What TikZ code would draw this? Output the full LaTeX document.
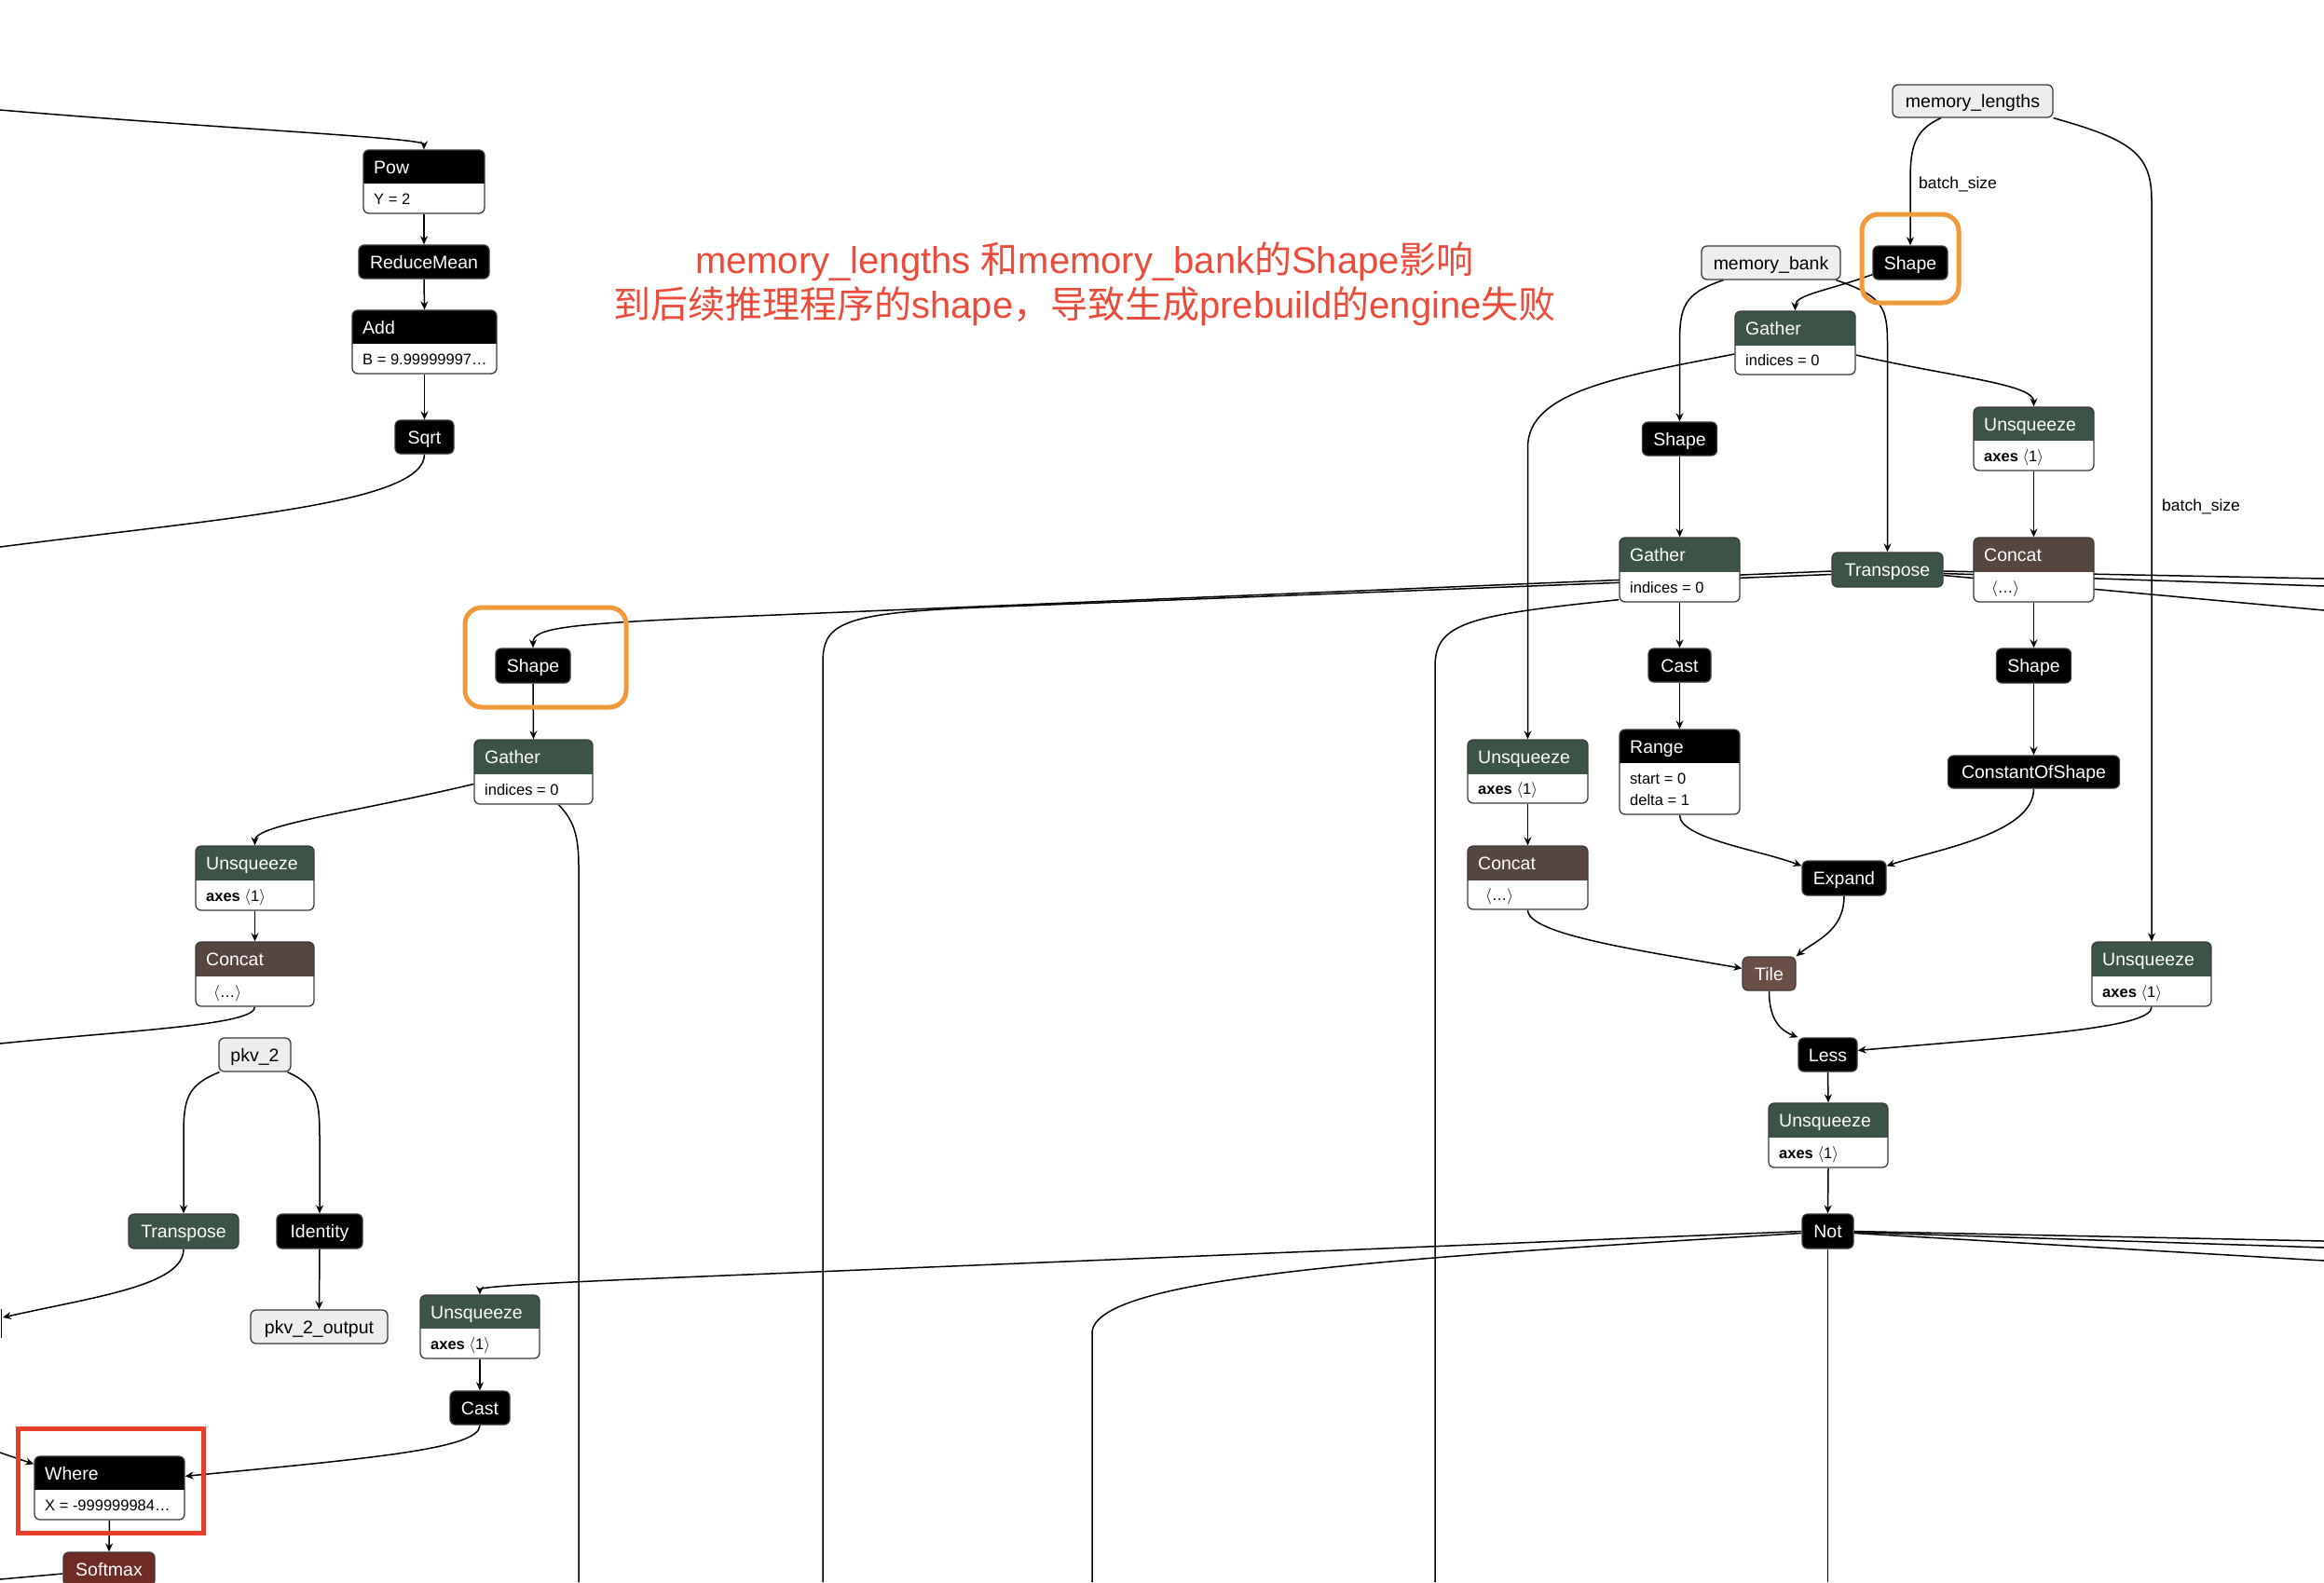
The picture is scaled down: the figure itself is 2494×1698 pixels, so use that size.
\documentclass[tikz,border=0pt]{standalone}
\usepackage{fontspec}
\setmainfont{Liberation Sans}
\newfontfamily\cjk{Noto Sans CJK SC}
\usetikzlibrary{arrows.meta}
\pgfdeclarelayer{bgl}
\pgfdeclarelayer{edgel}
\pgfsetlayers{bgl,edgel,main}
\definecolor{nodeline}{HTML}{3A3A3A}
\definecolor{hgreen}{HTML}{3C5445}
\definecolor{hbrown}{HTML}{574640}
\definecolor{htile}{HTML}{6B4F47}
\definecolor{hsoft}{HTML}{6E2C24}
\definecolor{inputfill}{HTML}{EEEEEE}
\definecolor{hlorange}{HTML}{F0993B}
\definecolor{hlred}{HTML}{E5402B}
\definecolor{notered}{HTML}{EA4B3A}
\newcommand\ttlfont{\fontsize{19.5}{23}\selectfont}
\newcommand\atrfont{\fontsize{16.5}{20}\selectfont}
\newcommand\lblfont{\fontsize{17.5}{21}\selectfont}
\newcommand\notefont{\fontsize{40}{48}\selectfont}
\newcommand\axesone{\textbf{axes}\ \ensuremath{\langle}1\ensuremath{\rangle}}
\newcommand\cellip{\hspace{8pt}\ensuremath{\langle}…\ensuremath{\rangle}}
\newcommand\snode[7]{\node[#6, minimum width={(#4)-(#2)}, minimum height={(#5)-(#3)}] (#1) at ({((#2)+(#4))/2},{((#3)+(#5))/2}) {#7};}
\newcommand\hnode[9]{%
  \node[hbox, minimum width={(#4)-(#2)}, minimum height={(#5)-(#3)},
    path picture={\fill[#7, sharp corners] (path picture bounding box.north west) rectangle ([yshift={(#3)-(#6)}]path picture bounding box.north east);}]
    (#1) at ({((#2)+(#4))/2},{((#3)+(#5))/2}) {};
  \node[ttl, anchor=west] (#1-t) at ({(#2)+11},{((#3)+(#6))/2}) {#8};
  \node[atr, anchor=west] (#1-a) at ({(#2)+11},{((#6)+(#5))/2}) {#9};}
\begin{document}
\begin{tikzpicture}[x=1pt,y=-1pt,
  opbox/.style={draw=nodeline, line width=1.3pt, rounded corners=6pt, inner sep=0pt,
    font=\ttlfont, text height=18pt, text depth=4pt},
  blk/.style={opbox, fill=black, text=white},
  grn/.style={opbox, fill=hgreen, text=white},
  tilebox/.style={opbox, fill=htile, text=white},
  softbox/.style={opbox, fill=hsoft, text=white},
  inp/.style={opbox, fill=inputfill, text=black},
  hbox/.style={draw=nodeline, line width=1.3pt, rounded corners=6pt, inner sep=0pt, fill=white},
  ttl/.style={font=\ttlfont, text=white, inner sep=0pt, text height=18pt, text depth=4pt},
  atr/.style={font=\atrfont, text=black, inner sep=0pt, text height=15pt, text depth=3pt},
  lbl/.style={font=\lblfont, text=black, inner sep=0pt, text height=16pt, text depth=3.5pt},
  note/.style={font=\notefont, text=notered, inner sep=0pt},
  conn/.style={draw=black, line width=1.5pt},
  conna/.style={conn, -{Stealth[length=9pt,width=8pt,inset=3pt]}},
  hlbox/.style={line width=5pt, rounded corners=18pt, draw=hlorange}]
\useasboundingbox (0,0) rectangle (2494,1698);
% ---------- nodes: right cluster
\snode{memlen}{2031}{91}{2203}{126}{inp}{memory\_lengths}
\snode{shapeA}{2010}{264}{2090}{300}{blk}{Shape}
\snode{membank}{1826}{264}{1975}{300}{inp}{memory\_bank}
\hnode{gatherA}{1862}{334}{1991}{402}{371}{hgreen}{Gather}{indices = 0}
\hnode{unsqA}{2118}{437}{2247}{505}{473}{hgreen}{Unsqueeze}{\axesone}
\snode{shapeB}{1762.5}{453}{1842.5}{489}{blk}{Shape}
\hnode{gatherB}{1738}{577}{1867}{646}{614}{hgreen}{Gather}{indices = 0}
\snode{transA}{1966}{593}{2085}{630}{grn}{Transpose}
\hnode{concatA}{2118}{577}{2247}{646}{614}{hbrown}{Concat}{\cellip}
\snode{castA}{1769}{696}{1836}{732}{blk}{Cast}
\hnode{rangeA}{1738}{783}{1867}{874}{819}{black}{Range}{}
\node[atr, anchor=west] (rangeA-a1) at (1749,835.5) {start = 0};
\node[atr, anchor=west] (rangeA-a2) at (1749,858.5) {delta = 1};
\snode{shapeC}{2142.5}{696}{2222.5}{733}{blk}{Shape}
\snode{cosA}{2090.5}{811}{2274.5}{846}{blk}{ConstantOfShape}
\hnode{unsqB}{1575}{794}{1704}{862}{831}{hgreen}{Unsqueeze}{\axesone}
\hnode{concatB}{1575}{908}{1704}{976}{945}{hbrown}{Concat}{\cellip}
\snode{expand}{1934}{924}{2024}{961}{blk}{Expand}
\snode{tile}{1870}{1027}{1927}{1063}{tilebox}{Tile}
\hnode{unsqC}{2245}{1011}{2373}{1080}{1048}{hgreen}{Unsqueeze}{\axesone}
\snode{less}{1930}{1114}{1993}{1150}{blk}{Less}
\hnode{unsqD}{1898}{1184}{2026}{1253}{1221}{hgreen}{Unsqueeze}{\axesone}
\snode{notA}{1934}{1303}{1989}{1340}{blk}{Not}
% ---------- nodes: left cluster
\hnode{pow}{390}{161}{520}{229}{197}{black}{Pow}{Y = 2}
\snode{rmean}{385}{263}{525}{299}{blk}{ReduceMean}
\hnode{add}{378}{333}{533}{401}{369}{black}{Add}{B = 9.99999997…}
\snode{sqrt}{424}{451}{487}{487}{blk}{Sqrt}
\snode{shapeD}{532}{696}{612}{733}{blk}{Shape}
\hnode{gatherC}{509}{794}{636}{863}{831}{hgreen}{Gather}{indices = 0}
\hnode{unsqE}{210}{908}{337}{977}{945}{hgreen}{Unsqueeze}{\axesone}
\hnode{concatC}{210}{1011}{337}{1080}{1048}{hbrown}{Concat}{\cellip}
\snode{pkv2}{235}{1114}{312}{1150}{inp}{pkv\_2}
\snode{transB}{138}{1303}{256}{1340}{grn}{Transpose}
\snode{identity}{297}{1303}{389}{1340}{blk}{Identity}
\snode{pkvout}{269}{1406}{416}{1442}{inp}{pkv\_2\_output}
\hnode{unsqF}{451}{1390}{579}{1458}{1426}{hgreen}{Unsqueeze}{\axesone}
\snode{castB}{483}{1493}{547}{1529}{blk}{Cast}
\hnode{where}{37}{1563}{198}{1631}{1599}{black}{Where}{X = -999999984…}
\snode{softmax}{68}{1666}{166}{1702}{softbox}{Softmax}
% ---------- edge labels
\node[lbl, anchor=west] (bs1) at (2059,196) {batch\_size};
\node[lbl, anchor=west] (bs2) at (2320,542) {batch\_size};
% ---------- annotation
\node[note, anchor=base] (note1) at (1164,293) {memory\_lengths {\cjk 和}memory\_bank{\cjk 的}Shape{\cjk 影响}};
\node[note, anchor=base] (note2) at (1164,341) {{\cjk 到后续推理程序的}shape{\cjk ，导致生成}prebuild{\cjk 的}engine{\cjk 失败}};
% ---------- highlight boxes
\draw[hlbox] (1998,230) rectangle (2102,325);
\draw[hlbox] (499,652) rectangle (672,759);
\draw[line width=5pt, draw=hlred] (19,1533) rectangle (218,1645);
% ---------- background
\begin{pgfonlayer}{bgl}
\fill[white] (0,0) rectangle (2494,1698);
\end{pgfonlayer}
% ---------- edges
\begin{pgfonlayer}{edgel}
% left column
\draw[conna] (0,118) .. controls (250,139) and (455,148) .. (pow.north);
\draw[conna] (pow.south) -- (rmean.north);
\draw[conna] (rmean.south) -- (add.north);
\draw[conna] (add.south) -- (sqrt.north);
\draw[conn] (sqrt.south) .. controls (455.5,540) and (250,555) .. (0,587);
% memory_lengths
\draw[conna] ([xshift=-34pt]memlen.south) .. controls (2053,140) and (2050,160) .. (2050,195) -- (shapeA.north);
\draw[conna] (memlen.south east) .. controls (2287,150) and (2309,165) .. (2309,215) -- (unsqC.north);
\draw[conna] ([yshift=6pt]shapeA.south west) .. controls (1962,312) and (1926.5,316) .. (gatherA.north);
% memory_bank
\draw[conna] ([xshift=-51pt]membank.south) .. controls (1806,315) and (1802.5,330) .. (1802.5,370) -- (shapeB.north);
\draw[conna] ([xshift=70pt]membank.south) .. controls (2021,318) and (2025.5,330) .. (2025.5,370) -- (transA.north);
% gatherA
\draw[conna] ([yshift=-12pt]gatherA.west) .. controls (1738,404) and (1639.5,420) .. (1639.5,480) -- (unsqB.north);
\draw[conna] ([yshift=-13pt]gatherA.east) .. controls (2097,405) and (2182.5,412) .. (unsqA.north);
\draw[conna] (shapeB.south) -- (gatherB.north);
\draw[conna] (unsqA.south) -- (concatA.north);
\draw[conna] (gatherB.south) -- (castA.north);
\draw[conna] (castA.south) -- (rangeA.north);
\draw[conna] (concatA.south) -- (shapeC.north);
\draw[conna] (shapeC.south) -- (cosA.north);
\draw[conna] (unsqB.south) -- (concatB.north);
\draw[conna] (rangeA.south) .. controls (1802.5,900) and (1888,912) .. ([yshift=-6pt]expand.north west);
\draw[conna] (cosA.south) .. controls (2182.5,895) and (2077,912) .. ([yshift=-6pt]expand.north east);
\draw[conna] (expand.south) .. controls (1979,1000) and (1947,1010) .. (tile.north east);
\draw[conna] (concatB.south) .. controls (1639.5,1003) and (1760,1020) .. ([yshift=-13pt]tile.north west);
\draw[conna] (tile.south) .. controls (1898.5,1095) and (1911,1106) .. (less.north west);
\draw[conna] (unsqC.south) .. controls (2309,1102) and (2200,1110) .. ([yshift=-14pt]less.north east);
\draw[conna] (less.south) -- (unsqD.north);
\draw[conna] (unsqD.south) -- (notA.north);
\draw[conn] (notA.south) -- (1961.5,1698);
% Transpose outputs
\draw[conna] ([yshift=-1.5pt]transA.west) -- (760,663) .. controls (600,670) and (572,675) .. (shapeD.north);
\draw[conn] ([yshift=-5pt]transA.west) -- (1050,652) .. controls (900,658) and (883,670) .. (883,712) -- (883,1698);
\draw[conn] ([yshift=3pt]gatherB.south west) .. controls (1578,660) and (1540,668) .. (1540,715) -- (1540,1698);
\draw[conn] ([yshift=-1.5pt]transA.east) -- (2494,621);
\draw[conn] ([yshift=-4pt]transA.east) -- (2494,629);
\draw[conn] ([yshift=-6pt]transA.east) -- (2494,655);
% Not outputs
\draw[conna] (notA.west) -- (680,1373) .. controls (540,1379) and (515,1382) .. (unsqF.north);
\draw[conn] ([yshift=-2pt]notA.west) .. controls (1500,1350) and (1175,1370) .. (1172,1430) -- (1172,1698);
\draw[conn] (notA.east) -- (2494,1332);
\draw[conn] ([yshift=-1pt]notA.east) -- (2494,1339);
\draw[conn] ([yshift=-2pt]notA.east) -- (2494,1353);
% left cluster
\draw[conna] (shapeD.south) -- (gatherC.north);
\draw[conna] ([yshift=-13pt]gatherC.west) .. controls (380,872) and (273.5,885) .. (unsqE.north);
\draw[conn] ([xshift=27pt]gatherC.south) .. controls (615,880) and (621,895) .. (621,930) -- (621,1698);
\draw[conna] (unsqE.south) -- (concatC.north);
\draw[conn] (concatC.south) .. controls (273.5,1100) and (150,1105) .. (0,1120);
\draw[conna] ([xshift=-38pt]pkv2.south) .. controls (200,1165) and (197,1180) .. (197,1220) -- (transB.north);
\draw[conna] ([xshift=35pt]pkv2.south) .. controls (340,1165) and (343,1180) .. (343,1220) -- (identity.north);
\draw[conna] (identity.south) -- (pkvout.north);
\draw[conna] (transB.south) .. controls (197,1380) and (100,1392) .. (3,1414);
\draw[conn] (1.5,1405) -- (1.5,1436);
\draw[conna] (unsqF.south) -- (castB.north);
\draw[conna] (castB.south) .. controls (515,1555) and (400,1565) .. ([yshift=-22pt]where.north east);
\draw[conna] (0,1559) -- ([yshift=-9pt]where.north west);
\draw[conna] (where.south) -- (softmax.north);
\draw[conn] (0,1695) -- ([yshift=-5pt]softmax.west);
\end{pgfonlayer}
\end{tikzpicture}
\end{document}
